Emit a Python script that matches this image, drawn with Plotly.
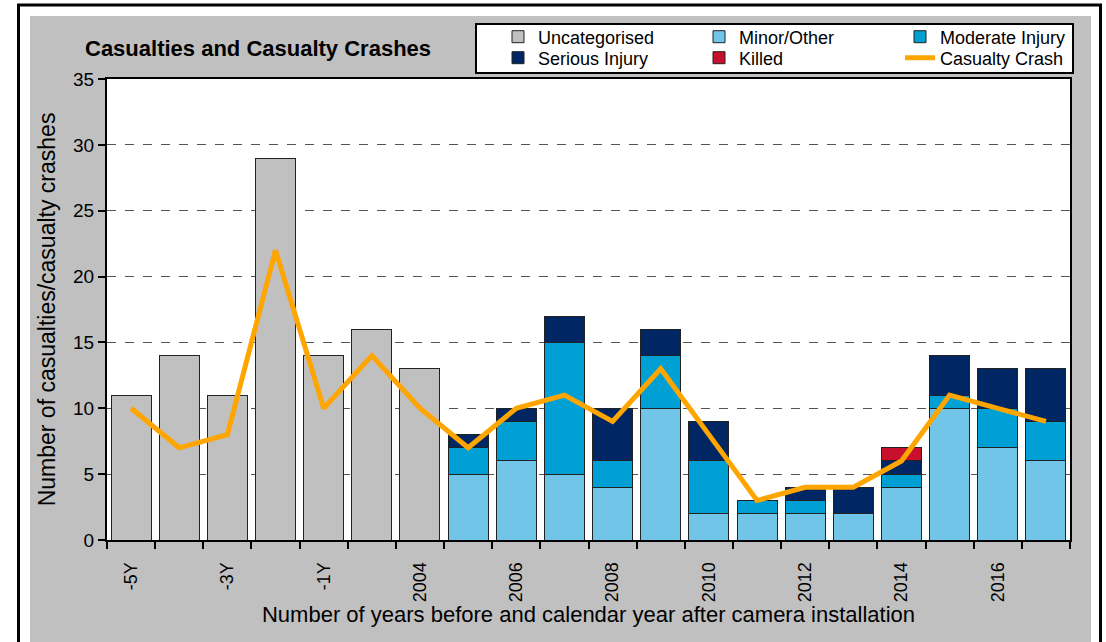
import plotly.graph_objects as go

categories = ["-5Y", "-4Y", "-3Y", "-2Y", "-1Y", "2003", "2004", "2005", "2006", "2007",
              "2008", "2009", "2010", "2011", "2012", "2013", "2014", "2015", "2016", "2017"]
tick_labels = ["-5Y", "", "-3Y", "", "-1Y", "", "2004", "", "2006", "", "2008", "", "2010", "",
               "2012", "", "2014", "", "2016", ""]
uncategorised = [11, 14, 11, 29, 14, 16, 13, 0, 0, 0, 0, 0, 0, 0, 0, 0, 0, 0, 0, 0]
minor_other = [0, 0, 0, 0, 0, 0, 0, 5, 6, 5, 4, 10, 2, 2, 2, 2, 4, 10, 7, 6]
moderate = [0, 0, 0, 0, 0, 0, 0, 2, 3, 10, 2, 4, 4, 1, 1, 0, 1, 1, 3, 3]
serious = [0, 0, 0, 0, 0, 0, 0, 1, 1, 2, 4, 2, 3, 0, 1, 2, 1, 3, 3, 4]
killed = [0, 0, 0, 0, 0, 0, 0, 0, 0, 0, 0, 0, 0, 0, 0, 0, 1, 0, 0, 0]
casualty_crash = [10, 7, 8, 22, 10, 14, 10, 7, 10, 11, 9, 13, 8, 3, 4, 4, 6, 11, 10, 9]

xpos = list(range(len(categories)))
FONT = "Liberation Sans, Arial, sans-serif"
W, H = 1106, 642

fig = go.Figure()
bar_specs = [
    ("Uncategorised", uncategorised, "#C0C0C0", "legend"),
    ("Minor/Other", minor_other, "#70C5E8", "legend"),
    ("Moderate Injury", moderate, "#009FD4", "legend"),
    ("Serious Injury", serious, "#002663", "legend2"),
    ("Killed", killed, "#C8102E", "legend2"),
]
for name, vals, col, lg in bar_specs:
    fig.add_trace(go.Bar(
        x=xpos, y=[v if v else None for v in vals], name=name, legend=lg,
        marker=dict(color=col, line=dict(color="#222222", width=1)),
        customdata=categories, hovertemplate="%{customdata}: %{y}<extra>" + name + "</extra>",
    ))
fig.add_trace(go.Scatter(
    x=xpos, y=casualty_crash, name="Casualty Crash", mode="lines", legend="legend2",
    line=dict(color="#FFA500", width=5),
))

# pixel helpers (plot area: x 107..1070, y 79..540)
L, R, T, B = 107, 1070, 79, 540
def px(x):
    return (x - L) / (R - L)
def py(y):
    return (B - y) / (B - T)

shapes = [
    dict(type="rect", xref="paper", yref="paper", x0=px(-5), x1=px(30), y0=py(650), y1=py(-5),
         fillcolor="white", line=dict(width=0), layer="above"),
    dict(type="rect", xref="paper", yref="paper", x0=px(-5), x1=px(1110), y0=py(16), y1=py(-5),
         fillcolor="white", line=dict(width=0), layer="above"),
    dict(type="rect", xref="paper", yref="paper", x0=px(1091), x1=px(1110), y0=py(650), y1=py(-5),
         fillcolor="white", line=dict(width=0), layer="above"),
    dict(type="rect", xref="paper", yref="paper", x0=px(18.5), x1=px(1100.5), y0=py(660), y1=py(5),
         fillcolor="rgba(0,0,0,0)", line=dict(color="black", width=3), layer="above"),
    # legend box
    dict(type="rect", xref="paper", yref="paper", x0=px(476), x1=px(1073), y0=py(73), y1=py(24),
         fillcolor="white", line=dict(color="black", width=2), layer="above"),
]

legend_common = dict(
    orientation="h", xanchor="right", yanchor="middle",
    bgcolor="rgba(0,0,0,0)", borderwidth=0,
    entrywidth=156, tracegroupgap=0,
    font=dict(size=18, family=FONT), traceorder="normal",
)

fig.update_layout(
    width=W, height=H,
    margin=dict(l=L, r=W - R, t=T, b=H - B, autoexpand=False),
    paper_bgcolor="#C0C0C0", plot_bgcolor="white",
    barmode="stack", bargap=0.17,
    font=dict(family=FONT, size=19, color="black"),
    title=dict(text="<b>Casualties and Casualty Crashes</b>", xref="container", yref="container",
               x=85 / W, xanchor="left", y=1 - 48 / H, yanchor="middle",
               font=dict(size=22, family=FONT)),
    showlegend=True,
    legend=dict(x=px(1101), y=py(37), **legend_common),
    legend2=dict(x=px(1101), y=py(58), **legend_common),
    shapes=shapes,
)
fig.update_xaxes(
    range=[-0.5, len(categories) - 0.5],
    tickmode="array", tickvals=xpos, ticktext=tick_labels, tickangle=-90,
    ticks="outside", ticklen=13, tickcolor="rgba(0,0,0,0)",
    showgrid=False, showline=True, linecolor="black", linewidth=2, mirror=True,
    tickfont=dict(size=18), zeroline=False,
    minor=dict(ticks="outside", tickmode="linear", tick0=-0.5, dtick=1, ticklen=7,
               tickcolor="black", tickwidth=2, showgrid=False),
    title=dict(text="Number of years before and calendar year after camera installation",
               font=dict(size=22), standoff=0),
)
fig.update_yaxes(
    range=[0, 35], dtick=5, ticks="outside", ticklen=7, tickwidth=1.5, tickcolor="black",
    showline=True, linecolor="black", linewidth=2, mirror=True,
    showgrid=True, gridcolor="#555555", griddash="dash", gridwidth=1, zeroline=False,
    tickfont=dict(size=19),
    title=dict(text="Number of casualties/casualty crashes", font=dict(size=23), standoff=11),
)
fig.write_html("out.html", config={"displayModeBar": False},
               post_script="document.body.style.margin='0';")
